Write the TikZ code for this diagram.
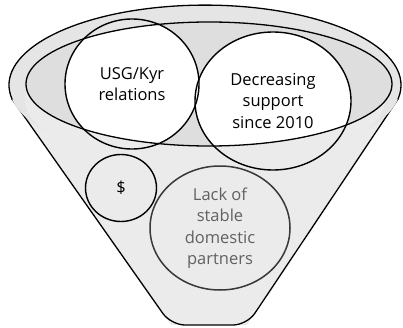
\documentclass[tikz,border=0pt]{standalone}
\usepackage{fontspec}
\setmainfont{Open Sans}
\usetikzlibrary{shapes.geometric}
\definecolor{ebebeb}{rgb}{0.92,0.92,0.92}
\definecolor{dedede}{rgb}{0.87,0.87,0.87}
\definecolor{e6e6e6}{rgb}{0.9,0.9,0.9}
\definecolor{sqsqsq}{rgb}{0.38,0.38,0.38}
\definecolor{zzzzzz}{rgb}{0.22,0.22,0.22}

\begin{document}
\begin{tikzpicture}[line cap=round,line join=round,x=1pt,y=1pt,
	bubble/.style={ellipse,draw=black,line width=1.4pt,inner sep=0pt,align=center,font=\fontsize{16.5}{21.5}\selectfont},
	faint/.style={bubble,draw=zzzzzz,line width=1.5pt,fill=ebebeb,text=sqsqsq}]
	\useasboundingbox (0,0) rectangle (403,327);
	% funnel body
	\fill[color=ebebeb] (398,228) -- (247,2) -- (171,2) -- (12,228) arc[start angle=190,end angle=-10,x radius=196,y radius=80];
	\draw[line width=1.3pt,rounded corners=14pt] (398,228) -- (247,2) -- (171,2) -- (12,228);
	% rim
	\fill[color=e6e6e6] (205,242) ellipse[x radius=196,y radius=80];
	\fill[color=ebebeb] (205,228) ellipse[x radius=180,y radius=70];
	\draw[line width=1.3pt] (12,228) arc[start angle=190,end angle=-10,x radius=196,y radius=80];
	\fill[color=dedede] (209,243) ellipse[x radius=183,y radius=62];
	\begin{scope}
		\clip (209,243) ellipse[x radius=183,y radius=62];
		\fill[white] (132,243) ellipse[x radius=67,y radius=65];
		\fill[white] (273,226) ellipse[x radius=78,y radius=69];
	\end{scope}
	% bubbles
	\node[bubble,minimum width=134pt,minimum height=130pt] (usg) at (132,243) {USG/Kyr\\relations};
	\node[bubble,minimum width=156pt,minimum height=138pt] (decr) at (273,226) {Decreasing\\support\\since 2010};
	\node[bubble,fill=ebebeb,minimum width=71pt,minimum height=67pt] (dollar) at (121,139) {\$};
	\node[faint,minimum width=140pt,minimum height=124pt] (lack) at (220,99) {Lack of\\stable\\domestic\\partners};
	\draw[line width=1.3pt] (209,243) ellipse[x radius=183,y radius=62];
\end{tikzpicture}
\end{document}
